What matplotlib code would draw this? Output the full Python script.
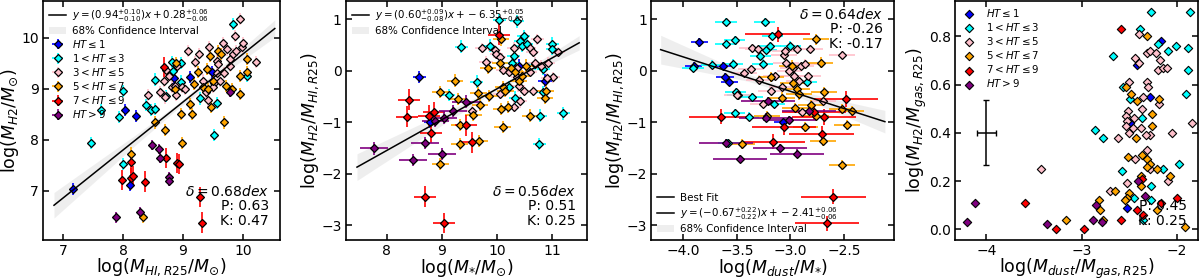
#!/usr/bin/env python3

"""."""
import numpy as np
import matplotlib
matplotlib.use('Agg')
from matplotlib import pyplot as plt


# --- categories ---
LABELS = [r'$HT \leq 1$', r'$1 < HT \leq 3$', r'$3 < HT \leq 5$',
          r'$5 < HT \leq 7$', r'$7 < HT \leq 9$', r'$HT > 9$']
COLORS = ['blue', 'cyan', 'pink', 'orange', 'red', 'purple']

# --- panel 1: log(MH2/Msun) vs log(MHI,R25/Msun) ---
p1_blue_x = [7.16, 8.03, 8.21, 8.12, 8.85, 9.12, 9.49]
p1_blue_y = [7.03, 8.58, 8.47, 7.11, 9.20, 9.23, 9.32]
p1_cyan_x = [7.47, 7.63, 7.94, 8.00, 8.00, 8.38, 8.47, 8.53, 8.54, 8.72,
             8.82, 8.83, 8.96, 8.96, 9.29, 9.51, 9.56, 9.84, 10.06]
p1_cyan_y = [7.94, 8.58, 8.44, 8.96, 7.52, 8.68, 8.58, 8.60, 9.18, 8.86,
             9.53, 9.35, 9.51, 9.14, 8.81, 8.10, 8.72, 10.27, 9.25]
p1_pink_x = [8.42, 8.61, 8.69, 8.71, 8.76, 8.82, 8.86, 8.89, 8.90, 8.98,
             9.04, 9.09, 9.20, 9.27, 9.34, 9.38, 9.42, 9.43, 9.52, 9.56,
             9.56, 9.59, 9.61, 9.66, 9.68, 9.73, 9.78, 9.78, 9.84, 9.87,
             9.89, 9.95, 9.98, 10.00, 10.22, 9.50, 8.70]
p1_pink_y = [8.88, 8.93, 9.16, 9.36, 9.25, 9.03, 9.06, 8.88, 9.45, 9.03,
             8.99, 9.74, 9.53, 9.68, 9.16, 8.93, 8.77, 9.81, 9.12, 9.55,
             9.30, 9.48, 9.16, 9.90, 9.31, 9.77, 9.58, 9.45, 9.68, 10.03,
             9.74, 10.36, 9.82, 9.90, 9.53, 9.03, 8.83]
p1_orange_x = [8.53, 8.70, 8.14, 8.34, 8.96, 8.98, 9.11, 9.15, 9.18, 9.25,
               9.33, 9.40, 9.42, 9.45, 9.46, 9.50, 9.59, 9.64, 9.68, 9.71,
               9.81, 9.95, 9.95, 10.06, 10.07, 8.86, 8.89]
p1_orange_y = [8.34, 8.19, 7.73, 6.49, 8.50, 7.94, 8.70, 8.50, 9.09, 9.32,
               9.04, 9.38, 8.99, 9.64, 8.64, 9.16, 9.74, 9.68, 8.34, 9.06,
               8.99, 9.25, 8.90, 9.33, 9.58, 8.99, 9.51]
p1_red_x = [8.68, 7.99, 8.13, 8.13, 8.17, 8.36, 8.71, 8.90, 8.93, 9.29, 9.32]
p1_red_y = [9.42, 7.21, 7.56, 7.25, 7.29, 7.18, 7.64, 7.55, 7.53, 6.88, 6.38]
p1_purple_x = [7.88, 8.28, 8.49, 8.60, 8.61, 8.76, 8.77, 9.78]
p1_purple_y = [6.48, 6.58, 7.90, 7.82, 7.65, 7.27, 7.19, 8.93]
p1_xerr = [0.04, 0.04, 0.04, 0.04, 0.04, 0.04]
p1_yerr = [0.12, 0.12, 0.12, 0.12, 0.2, 0.1]
p1_fit = (0.94, 0.28)
p1_band_x = [6.85, 7.5, 8.2, 8.9, 9.6, 10.53]
p1_band_hw = [0.25, 0.18, 0.10, 0.05, 0.08, 0.17]
p1_stats = r'$\delta = 0.68 dex$' + '\nP: 0.63\nK: 0.47'
p1_fit_label = r'$y = (0.94^{+0.10}_{-0.10})x + 0.28^{+0.06}_{-0.06}$'

# --- panel 2: log(MH2/MHI,R25) vs log(M*/Msun) ---
p2_blue_x = [8.59, 8.79, 10.39, 10.87]
p2_blue_y = [-0.12, -1.00, 0.10, -0.19]
p2_cyan_x = [9.35, 9.12, 9.63, 9.87, 10.04, 10.27, 10.30, 10.36, 10.42,
             10.45, 10.48, 10.54, 10.69, 10.83, 10.78, 10.77, 11.00, 11.00,
             11.20, 10.84, 10.21, 10.33]
p2_cyan_y = [0.47, -0.47, -0.21, 0.49, 0.98, 0.16, 0.29, 0.96, 0.58, 0.49,
             0.68, 0.52, 0.13, -0.41, -0.87, -1.42, 0.53, 0.42, -0.83, 0.03,
             -0.32, -0.52]
p2_pink_x = [9.72, 9.80, 9.96, 9.99, 10.05, 10.10, 10.21, 10.30, 10.37,
             10.39, 10.49, 10.42, 10.31, 10.59, 10.65, 10.73, 10.69, 10.80,
             10.93, 11.02, 11.11, 10.91, 10.65, 10.05, 9.54, 10.60, 10.36]
p2_pink_y = [0.44, 0.18, 0.40, 0.32, 0.26, 0.01, -0.03, 0.45, -0.13, -0.29,
             -0.39, -0.58, -0.71, 0.45, 0.36, 0.61, 0.16, 0.10, 0.16, -0.13,
             0.36, -0.14, -0.39, -0.45, -0.78, -0.03, 0.06]
p2_orange_x = [8.97, 9.24, 9.30, 9.32, 9.32, 9.66, 9.69, 9.57, 9.68, 9.84,
               9.86, 10.07, 10.05, 10.11, 10.07, 10.10, 10.15, 10.25, 10.33,
               10.39, 10.45, 10.52, 10.60, 10.88, 10.87, 8.97, 10.19]
p2_orange_y = [-0.41, -0.19, -0.55, -1.06, -1.42, -0.44, -0.67, -0.86, -1.36,
               0.06, -0.49, 0.61, 0.16, -0.32, -0.74, -1.09, -0.39, 0.06,
               -0.03, -0.19, -0.10, 0.10, -0.87, -0.39, -0.52, -1.81, -0.71]
p2_red_x = [8.41, 8.36, 8.76, 8.86, 8.81, 9.43, 9.55, 8.69, 9.04, 10.04]
p2_red_y = [-0.56, -0.89, -0.87, -0.80, -1.21, -1.06, -1.39, -2.45, -2.96,
            0.70]
p2_purple_x = [7.77, 8.48, 8.69, 8.88, 9.00, 9.03, 9.20, 9.44]
p2_purple_y = [-1.51, -1.73, -1.41, -0.97, -1.62, -0.91, -0.78, -0.60]
p2_xerr = [0.12, 0.12, 0.12, 0.15, 0.2, 0.25]
p2_yerr = [0.12, 0.12, 0.1, 0.12, 0.2, 0.12]
p2_fit = (0.60, -6.35)
p2_band_x = [7.46, 8.3, 9.1, 9.9, 10.7, 11.49]
p2_band_hw = [0.26, 0.18, 0.10, 0.04, 0.07, 0.14]
p2_stats = r'$\delta = 0.56 dex$' + '\nP: 0.51\nK: 0.25'
p2_fit_label = r'$y = (0.60^{+0.09}_{-0.08})x + -6.35^{+0.05}_{-0.05}$'

# --- panel 3: log(MH2/MHI,R25) vs log(Mdust/M*) ---
p3_blue_x = [-3.85, -3.90, -3.63, -3.61, -3.57, -3.07]
p3_blue_y = [0.55, 0.10, 0.10, -0.12, -0.21, -1.00]
p3_cyan_x = [-3.91, -3.60, -3.60, -3.52, -3.73, -3.54, -3.51, -3.49, -3.52,
             -3.39, -3.58, -3.36, -3.26, -3.24, -3.23, -3.19, -3.17, -3.15,
             -3.28, -3.00, -2.85]
p3_cyan_y = [0.06, 0.95, 0.53, 0.60, 0.12, 0.14, -0.41, -0.48, -0.83, -0.89,
             -1.41, -0.51, 0.14, 0.95, 0.40, 0.48, 0.68, -0.65, 0.29, 0.49,
             -0.21]
p3_pink_x = [-3.43, -3.37, -3.36, -3.29, -3.26, -3.30, -3.18, -3.14, -3.08,
             -3.06, -3.04, -2.98, -2.97, -2.92, -2.90, -2.89, -2.86, -2.82,
             -2.84, -2.94, -3.01, -2.70, -2.52, -3.50, -3.05]
p3_pink_y = [-0.05, 0.03, 0.45, -0.17, -0.64, 0.42, -0.39, -0.10, -0.31,
             0.31, 0.16, 0.06, -0.10, -0.19, 0.10, -0.81, 0.14, 0.43, -0.10,
             0.42, 0.00, -0.59, 0.30, -0.47, 0.39]
p3_orange_x = [-3.45, -3.22, -3.08, -2.99, -2.98, -2.96, -2.94, -2.92, -2.86,
               -2.81, -2.76, -2.76, -2.72, -2.70, -2.69, -2.52, -2.47, -2.43,
               -2.52, -3.18]
p3_orange_y = [-1.43, -0.88, -0.52, 0.10, -0.23, -0.72, -0.36, -0.46, -1.09,
               -0.67, -0.88, 0.61, 0.16, -1.36, -0.42, -0.75, -1.06, -0.78,
               -1.83, -0.12]
p3_red_x = [-3.65, -3.12, -3.16, -3.06, -2.78, -2.71, -2.69, -2.48, -2.60,
            -2.66]
p3_red_y = [-0.89, 0.71, -1.38, -1.09, -0.80, -1.22, -0.90, -0.55, -2.45,
            -2.97]
p3_purple_x = [-3.60, -3.47, -3.23, -3.21, -3.01, -3.10, -2.94, -2.83]
p3_purple_y = [-1.41, -1.72, -0.91, -0.59, -0.96, -1.51, -1.61, -0.78]
p3_xerr = [0.08, 0.1, 0.12, 0.12, 0.3, 0.25]
p3_yerr = [0.08, 0.08, 0.08, 0.1, 0.15, 0.08]
p3_fit = (-0.67, -2.41)
p3_band_x = [-4.21, -3.8, -3.4, -3.0, -2.6, -2.12]
p3_band_hw = [0.28, 0.17, 0.07, 0.05, 0.12, 0.22]
p3_stats = r'$\delta = 0.64 dex$' + '\nP: -0.26\nK: -0.17'
p3_fit_label = r'$y = (-0.67^{+0.22}_{-0.22})x + -2.41^{+0.06}_{-0.06}$'

# --- panel 4: log(MH2/Mgas,R25) vs log(Mdust/Mgas,R25) ---
p4_blue_x = [-2.17, -2.42, -2.28, -2.49, -2.52]
p4_blue_y = [0.78, 0.68, 0.55, 0.44, 0.09]
p4_cyan_x = [-2.27, -1.86, -2.39, -2.20, -2.09, -2.01, -1.88, -2.67, -1.88,
             -2.57, -1.91, -2.49, -2.37, -2.86, -2.78, -1.98, -2.15, -2.58,
             -2.27, -2.45, -2.27, -2.36]
p4_cyan_y = [0.90, 0.90, 0.83, 0.77, 0.74, 0.76, 0.75, 0.72, 0.66, 0.59,
             0.56, 0.54, 0.46, 0.41, 0.38, 0.27, 0.25, 0.24, 0.18, 0.13,
             0.12, 0.04]
p4_pink_x = [-2.32, -2.28, -2.22, -2.44, -2.40, -2.18, -2.20, -2.15, -2.11,
             -2.40, -2.50, -2.32, -2.30, -2.36, -2.19, -2.51, -2.37, -2.54,
             -2.52, -2.45, -2.54, -2.46, -2.38, -2.50, -2.28, -2.33, -2.62,
             -2.05, -1.84, -2.31, -2.44, -2.28, -2.09, -2.52, -2.70, -3.43]
p4_pink_y = [0.73, 0.74, 0.73, 0.71, 0.69, 0.70, 0.66, 0.67, 0.67, 0.81,
             0.61, 0.61, 0.59, 0.55, 0.52, 0.49, 0.50, 0.47, 0.45, 0.46,
             0.43, 0.42, 0.42, 0.40, 0.39, 0.39, 0.38, 0.40, 0.44, 0.33,
             0.29, 0.25, 0.20, 0.19, 0.16, 0.25]
p4_orange_x = [-2.31, -2.53, -2.48, -2.42, -2.19, -2.26, -2.26, -2.43, -2.51,
               -2.37, -2.32, -2.28, -2.31, -2.21, -2.07, -2.38, -2.38, -2.65,
               -2.50, -2.52, -2.55, -2.82, -2.81, -2.78, -3.17, -2.21, -1.92]
p4_orange_y = [0.80, 0.59, 0.56, 0.53, 0.54, 0.48, 0.43, 0.38, 0.30, 0.31,
               0.29, 0.27, 0.26, 0.25, 0.22, 0.22, 0.18, 0.16, 0.15, 0.13,
               0.12, 0.12, 0.08, 0.04, 0.04, 0.08, 0.01]
p4_red_x = [-2.59, -2.37, -2.42, -2.36, -2.17, -2.00, -2.59, -2.98, -3.27,
            -3.59]
p4_red_y = [0.83, 0.21, 0.08, 0.06, 0.11, 0.13, 0.04, 0.00, 0.00, 0.11]
p4_purple_x = [-4.20, -4.12, -3.36, -2.88, -2.85, -2.79, -2.41, -2.34]
p4_purple_y = [0.03, 0.11, 0.02, 0.04, 0.10, 0.03, 0.20, 0.14]
p4_typical_err = (-4.0, 0.40, 0.10, 0.135)
p4_stats = 'P: 0.45\nK: 0.25'

LEG_FS = 7.4


def style_axes(ax, xlim, ylim, xticks, yticks, xlabel, ylabel):
    """."""
    ax.set_xlim(*xlim)
    ax.set_ylim(*ylim)
    ax.set_xticks(xticks)
    ax.set_yticks(yticks)
    ax.tick_params(direction='in', top=True, right=True, length=4,
                   width=1.1, labelsize=10, pad=3)
    for spine in ax.spines.values():
        spine.set_linewidth(1.2)
    ax.set_xlabel(xlabel, fontsize=12.5, labelpad=-1)
    ax.set_ylabel(ylabel, fontsize=12.5, labelpad=0)


def draw_errorbars(ax, xs, ys, xerr, yerr, with_label=True):
    """."""
    for i, (x, y) in enumerate(zip(xs, ys)):
        label = LABELS[i] if with_label else None
        ax.errorbar(x, y, xerr=xerr[i], yerr=yerr[i], fmt='D',
                    color=COLORS[i], ecolor=COLORS[i], mec='black',
                    mew=0.9, ms=4.2, elinewidth=1.2, capsize=0,
                    label=label, zorder=3)


def draw_fit(ax, fit, band_x, band_hw, label, extra_label=None):
    """."""
    bx = np.array(band_x)
    line = fit[0] * bx + fit[1]
    hw = np.array(band_hw)
    if extra_label:
        ax.plot(bx, line, color='black', lw=1.1, label=extra_label, zorder=4)
        ax.plot([], [], color='black', lw=1.1, label=label)
    else:
        ax.plot(bx, line, color='black', lw=1.1, label=label, zorder=4)
    ax.fill_between(bx, line - hw, line + hw, color='grey', alpha=0.13,
                    lw=0, label='68% Confidence Interval', zorder=2)


def add_stats(ax, text, top=False):
    """."""
    if top:
        ax.text(0.955, 0.975, text, transform=ax.transAxes, ha='right',
                va='top', fontsize=10, linespacing=1.05, zorder=5)
    else:
        ax.text(0.955, 0.05, text, transform=ax.transAxes, ha='right',
                va='bottom', fontsize=10, linespacing=1.05, zorder=5)


fig = plt.figure(figsize=(12, 2.79), dpi=100)
ax1 = fig.add_axes([0.036, 0.14, 0.197, 0.857])
ax2 = fig.add_axes([0.2883, 0.14, 0.2008, 0.857])
ax3 = fig.add_axes([0.5425, 0.14, 0.2025, 0.857])
ax4 = fig.add_axes([0.7958, 0.14, 0.2025, 0.857])

# panel 1
p1_xs = [p1_blue_x, p1_cyan_x, p1_pink_x, p1_orange_x, p1_red_x, p1_purple_x]
p1_ys = [p1_blue_y, p1_cyan_y, p1_pink_y, p1_orange_y, p1_red_y, p1_purple_y]
draw_fit(ax1, p1_fit, p1_band_x, p1_band_hw, p1_fit_label)
draw_errorbars(ax1, p1_xs, p1_ys, p1_xerr, p1_yerr)
style_axes(ax1, (6.67, 10.61), (6.04, 10.72), [7, 8, 9, 10], [7, 8, 9, 10],
           r'log($M_{HI,R25}/M_{\odot}$)', r'log($M_{H2}/M_{\odot}$)')
ax1.legend(loc='upper left', fontsize=LEG_FS, frameon=False,
           borderaxespad=0.2, handlelength=1.6, labelspacing=0.2,
           handletextpad=0.6)
add_stats(ax1, p1_stats)

# panel 2
p2_xs = [p2_blue_x, p2_cyan_x, p2_pink_x, p2_orange_x, p2_red_x, p2_purple_x]
p2_ys = [p2_blue_y, p2_cyan_y, p2_pink_y, p2_orange_y, p2_red_y, p2_purple_y]
draw_fit(ax2, p2_fit, p2_band_x, p2_band_hw, p2_fit_label)
draw_errorbars(ax2, p2_xs, p2_ys, p2_xerr, p2_yerr, with_label=False)
style_axes(ax2, (7.26, 11.63), (-3.29, 1.36), [8, 9, 10, 11],
           [-3, -2, -1, 0, 1],
           r'log($M_{*}/M_{\odot}$)', r'log($M_{H2}/M_{HI,R25}$)')
ax2.legend(loc='upper left', fontsize=LEG_FS, frameon=False,
           borderaxespad=0.2, handlelength=1.6, labelspacing=0.2,
           handletextpad=0.6)
add_stats(ax2, p2_stats)

# panel 3
p3_xs = [p3_blue_x, p3_cyan_x, p3_pink_x, p3_orange_x, p3_red_x, p3_purple_x]
p3_ys = [p3_blue_y, p3_cyan_y, p3_pink_y, p3_orange_y, p3_red_y, p3_purple_y]
draw_fit(ax3, p3_fit, p3_band_x, p3_band_hw, p3_fit_label,
         extra_label='Best Fit')
draw_errorbars(ax3, p3_xs, p3_ys, p3_xerr, p3_yerr, with_label=False)
style_axes(ax3, (-4.30, -2.035), (-3.29, 1.36), [-4.0, -3.5, -3.0, -2.5],
           [-3, -2, -1, 0, 1],
           r'log($M_{dust}/M_{*}$)', r'log($M_{H2}/M_{HI,R25}$)')
ax3.legend(loc='lower left', fontsize=LEG_FS, frameon=False,
           borderaxespad=0.2, handlelength=1.6, labelspacing=0.2,
           handletextpad=0.6)
add_stats(ax3, p3_stats, top=True)

# panel 4
p4_xs = [p4_blue_x, p4_cyan_x, p4_pink_x, p4_orange_x, p4_red_x, p4_purple_x]
p4_ys = [p4_blue_y, p4_cyan_y, p4_pink_y, p4_orange_y, p4_red_y, p4_purple_y]
for i in range(6):
    ax4.scatter(p4_xs[i], p4_ys[i], marker='D', s=18, color=COLORS[i],
                edgecolors='black', linewidths=0.8, label=LABELS[i], zorder=3)
ex, ey, exerr, eyerr = p4_typical_err
ax4.errorbar(ex, ey, xerr=exerr, yerr=eyerr, color='black', lw=1.1,
             capsize=2)
style_axes(ax4, (-4.33, -1.78), (-0.044, 0.947), [-4, -3, -2],
           [0.0, 0.2, 0.4, 0.6, 0.8],
           r'log($M_{dust}/M_{gas,R25}$)', r'log($M_{H2}/M_{gas,R25}$)')
ax4.legend(loc='upper left', fontsize=LEG_FS, frameon=False,
           borderaxespad=0.2, scatterpoints=1, handletextpad=0.8,
           labelspacing=0.2, handlelength=1.6)
add_stats(ax4, p4_stats)

fig.savefig('out.png', dpi=100)
